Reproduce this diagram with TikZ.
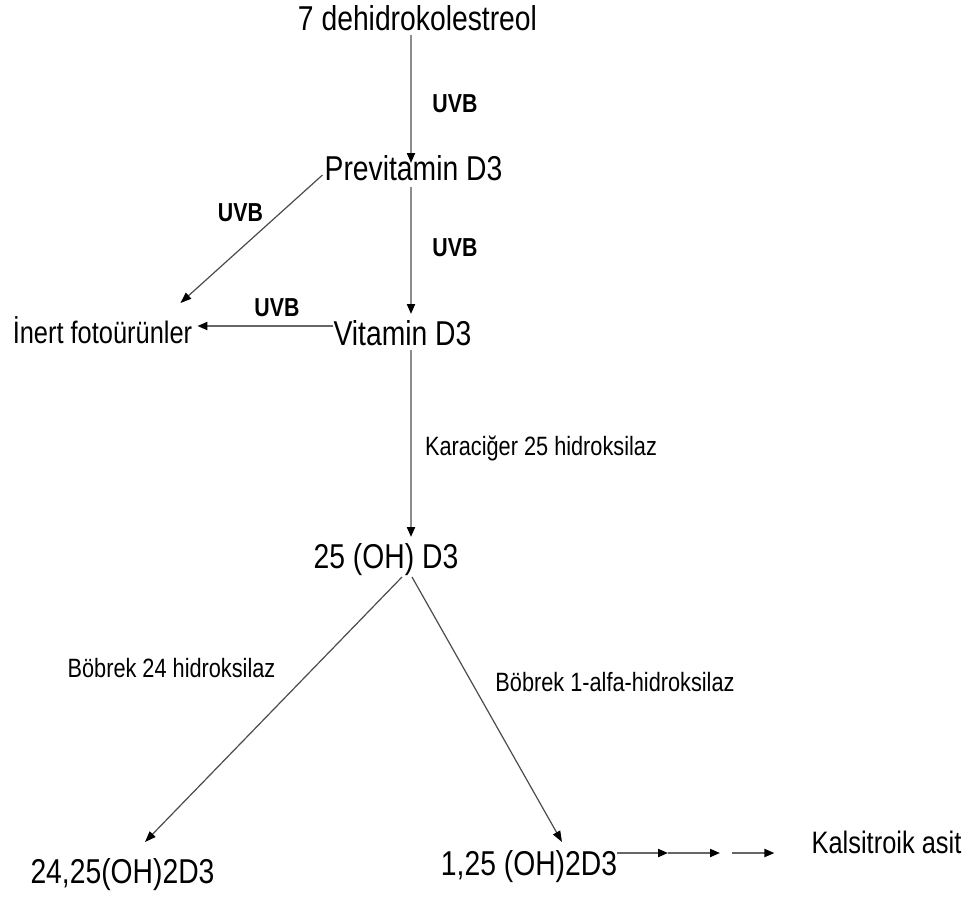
\documentclass[tikz,border=0pt]{standalone}
\usepackage{fontspec}
\setmainfont[FakeStretch=0.82]{Liberation Sans}
\usetikzlibrary{arrows.meta}
\begin{document}
\begin{tikzpicture}[x=1pt,y=-1pt,
  big/.style={inner sep=0pt,anchor=base,font=\fontsize{34.5}{40}\selectfont},
  mid/.style={inner sep=0pt,anchor=base,font=\fontsize{31}{36}\selectfont},
  small/.style={inner sep=0pt,anchor=base,font=\fontsize{26.5}{30}\selectfont},
  uvb/.style={inner sep=0pt,anchor=base,font=\fontsize{26}{30}\selectfont\bfseries},
  garr/.style={draw=black!45,line width=2pt,-{Triangle[length=10pt,width=8pt,color=black]}},
  darr/.style={draw=black!70,line width=1.2pt,-{Triangle[length=11pt,width=8pt,color=black]}},
  harr/.style={draw=black!60,line width=2pt,-{Triangle[length=10pt,width=8pt,color=black]}}]
\path[use as bounding box] (0,0) rectangle (970,898);
\fill[white] (0,0) rectangle (970,898);

\coordinate (vx) at (411,0);

\node[big] (dehi) at (417.5,30) {7 dehidrokolestreol};
\node[big] (previt) at (413.5,180) {Previtamin D3};
\node[big] (vitd) at (402.5,345) {Vitamin D3};
\node[mid] (inert) at (102.5,343) {İnert fotoürünler};
\node[big] (oh25) at (386,568) {25 (OH) D3};
\node[big] (d2425) at (122.5,883) {24,25(OH)2D3};
\node[big] (d125) at (529,875) {1,25 (OH)2D3};
\node[mid] (kalsi) at (886.5,853) {Kalsitroik asit};

\node[uvb] (u1) at (455,112) {UVB};
\node[uvb] (u2) at (455,256) {UVB};
\node[uvb] (u3) at (240.5,221) {UVB};
\node[uvb] (u4) at (277,316) {UVB};
\node[small] (kara) at (541,455) {Karaciğer 25 hidroksilaz};
\node[small] (bob24) at (171.5,677) {Böbrek 24 hidroksilaz};
\node[small] (bob1) at (615,691) {Böbrek 1-alfa-hidroksilaz};

\draw[garr] ([yshift=-5pt]dehi.base -| vx) -- ([yshift=17pt]previt.base -| vx);
\draw[garr] ([yshift=-7pt]previt.base -| vx) -- ([yshift=31pt]vitd.base -| vx);
\draw[darr] ([shift={(-2pt,5pt)}]previt.base west) -- ([shift={(-12pt,40pt)}]inert.base east);
\draw[harr] ([yshift=19pt]vitd.base west) -- ([shift={(5pt,17pt)}]inert.base east);
\draw[garr] ([yshift=-5pt]vitd.base -| vx) -- ([yshift=31pt]oh25.base -| vx);
\draw[darr] ([shift={(16pt,-9pt)}]oh25.base) -- ([shift={(22.5pt,41pt)}]d2425.base);
\draw[darr] ([shift={(26pt,-9pt)}]oh25.base) -- ([shift={(33pt,33pt)}]d125.base);

\coordinate (m1) at (668,853);
\coordinate (m2) at (720,853);
\coordinate (m3) at (732,853);
\draw[harr] (d125.base east |- m1) -- (m1);
\draw[harr] (m1) -- (m2);
\draw[harr] (m3) -- ([xshift=-37pt]kalsi.base west);
\end{tikzpicture}
\end{document}
